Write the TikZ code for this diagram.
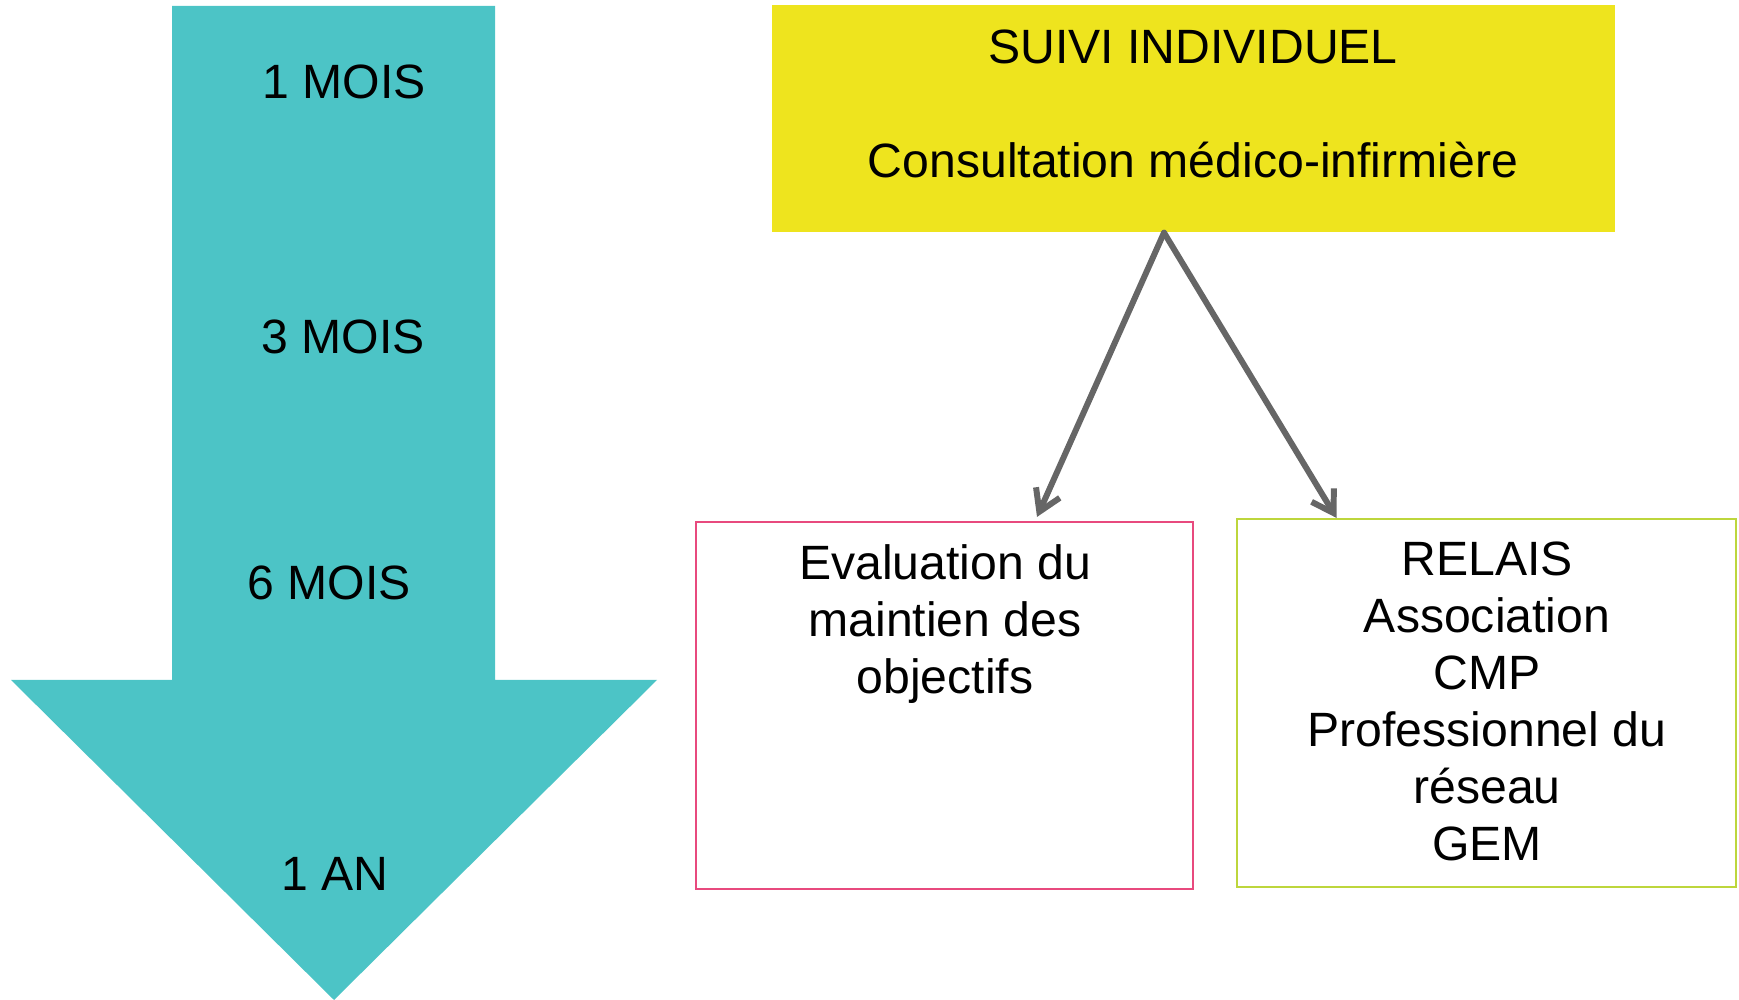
\documentclass[tikz,border=0pt]{standalone}
\usepackage{fontspec}
\setmainfont{Liberation Sans}
\usetikzlibrary{arrows.meta,calc}

\definecolor{turq}{HTML}{4CC4C6}
\definecolor{jaune}{HTML}{EEE41E}
\definecolor{rose}{HTML}{E84A7E}
\definecolor{vert}{HTML}{BDD63C}
\definecolor{gris}{HTML}{666666}

\tikzset{
  lbl/.style={font=\fontsize{13.7}{16.2}\selectfont, inner sep=0pt, align=center},
  cadre/.style={draw, line width=0.6pt, inner sep=0pt},
  fleche/.style={draw=gris, line width=1.7pt, line cap=round, -{Straight Barb[length=2.1mm,width=2.6mm]}}
}

\begin{document}
\begin{tikzpicture}
\useasboundingbox (0,0) rectangle (17.39,10);

% the time arrow
\fill[turq] (1.72,9.94)--(4.95,9.94)--(4.95,3.20)--(6.57,3.20)--(3.34,0)--(0.11,3.20)--(1.72,3.20)--cycle;
\node[lbl, anchor=base] (m1) at (3.44,9.01) {1 MOIS};
\node[lbl, anchor=base] (m3) at (3.43,6.46) {3 MOIS};
\node[lbl, anchor=base] (m6) at (3.29,4.00) {6 MOIS};
\node[lbl, anchor=base] (an) at (3.35,1.09) {1 AN};

% suivi
\node[fill=jaune, minimum width=8.43cm, minimum height=2.27cm, inner sep=0pt] (suivi) at (11.935,8.815) {};
\node[lbl, anchor=north] (suivitxt) at (11.93,9.706) {SUIVI INDIVIDUEL\\[16.2pt]Consultation médico-infirmière};

\node[cadre, draw=rose, minimum width=4.97cm, minimum height=3.67cm] (eval) at (9.445,2.945) {};
\node[lbl, anchor=north] (evaltxt) at (9.45,4.556) {Evaluation du\\maintien des\\objectifs};

\node[cadre, draw=vert, minimum width=4.99cm, minimum height=3.68cm] (relais) at (14.865,2.97) {};
\node[lbl, anchor=north] (relaistxt) at (14.87,4.586) {RELAIS\\Association\\CMP\\Professionnel du\\réseau\\GEM};

\draw[fleche] ($(suivi.south)+(-0.295,0)$) -- ($(eval.north)+(0.925,0.04)$);
\draw[fleche] ($(suivi.south)+(-0.295,0)$) -- ($(relais.north)+(-1.5,0)$);

\end{tikzpicture}
\end{document}
